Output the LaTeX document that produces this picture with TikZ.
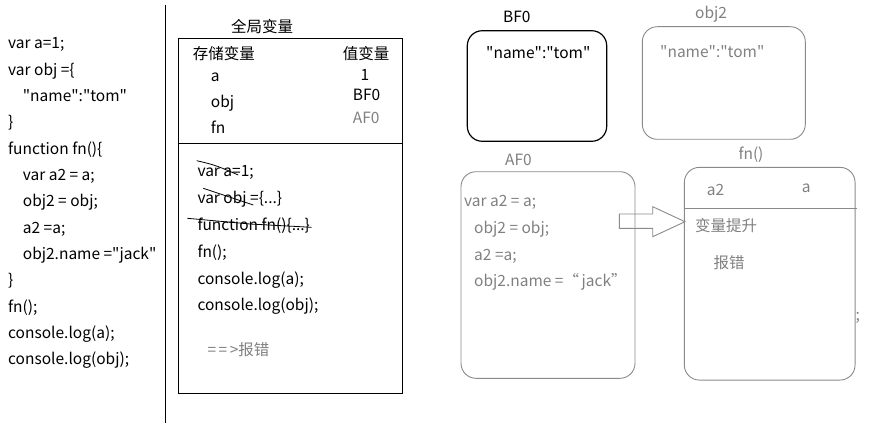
\documentclass[tikz,border=0pt]{standalone}
\usepackage{fontspec}
\newfontfamily\myfont{Noto Sans CJK SC}
\definecolor{gtxt}{HTML}{808080}
\definecolor{gline}{HTML}{8A8A8A}
\newcommand{\fs}{\myfont\fontsize{15.5}{18}\selectfont}
\begin{document}
\begin{tikzpicture}[x=1pt,y=-1pt,
  txt/.style={anchor=base west,inner sep=0pt,font=\fs},
  ctxt/.style={anchor=base,inner sep=0pt,font=\fs},
  gray text/.style={text=gtxt},
  rbox/.style={draw,rounded corners=15pt,inner sep=0pt},
  strike/.style={line width=0.8pt}]
\useasboundingbox (0,0) rectangle (878,425);
% left code
\foreach \t/\x [count=\i from 0] in {var a=1;/8, var obj =\{/8, "name":"tom"/22.7, \}/8, function fn()\{/8, var a2 = a;/22.7, obj2 = obj;/22.7, a2 =a;/22.7, obj2.name ="jack"/22.7, \}/8, fn();/8, console.log(a);/8, console.log(obj);/8}
  \node[txt] (l\i) at (\x,49+26.33*\i) {\t};
\draw[line width=1pt] (165,5) -- (165,423);
% global
\node[ctxt] (gtitle) at (262,32.7) {全局变量};
\node[draw,line width=0.9pt,inner sep=0pt,minimum width=224pt,minimum height=355pt] (gbox) at (290,215.8) {};
\draw[line width=0.9pt] (gbox.west |- 0,143.3) coordinate (d1) -- (gbox.east |- 0,143.3) coordinate (d2);
\node[txt] (h1) at (192.7,60) {存储变量};
\node[txt] (h2) at (342.7,60) {值变量};
\node[txt] (va) at (210.7,81.7) {a};
\node[txt] (vobj) at (210.7,108) {obj};
\node[txt] (vfn) at (210.7,134) {fn};
\node[ctxt] (v1) at (365,80.7) {1};
\node[txt] (vbf) at (352.7,100.7) {BF0};
\node[txt,gray text] (vaf) at (352.7,124) {AF0};
\node[txt] (g1) at (197.3,176) {var a=1;};
\node[txt] (g2) at (197.3,203) {var obj =\{...\}};
\node[txt] (g3) at (197.3,230) {function fn()\{...\}};
\node[txt] (g4) at (197.3,257) {fn();};
\node[txt] (g5) at (197.3,284) {console.log(a);};
\node[txt] (g6) at (197.3,310.7) {console.log(obj);};
\node[txt,gray text] (g7) at (207.3,355) {=\,=\,>报错};
\draw[strike] (196.7,160.7) .. controls (215,165) .. (238.3,175);
\draw[strike] (203.3,188.3) -- (253.3,205);
\draw[strike] (187.3,218.3) -- (250,224) -- (311.7,227.3);
% BF0
\node[txt] (bft) at (503,22.7) {BF0};
\node[rbox,line width=1.2pt,minimum width=139.4pt,minimum height=110.6pt] (bf) at (537,86) {};
\node[txt] (bfn) at (486,58.3) {"name":"tom"};
% obj2
\node[txt,gray text] (o2t) at (695,18.3) {obj2};
\node[rbox,draw=gline,line width=0.9pt,minimum width=163pt,minimum height=112.6pt] (o2) at (723.8,83) {};
\node[txt,gray text] (o2n) at (660,57.3) {"name":"tom"};
% AF0
\node[txt,gray text] (aft) at (505,165) {AF0};
\node[rbox,draw=gline,line width=0.9pt,minimum width=174pt,minimum height=206.6pt] (af) at (548,275) {};
\node[txt,gray text] (a1) at (464,206) {var a2 {=} a;};
\node[txt,gray text] (a2) at (474,233.3) {obj2 {=} obj;};
\node[txt,gray text] (a3) at (474,260) {a2 =a;};
\node[txt,gray text] (a4) at (474,286.7) {obj2.name =“\,jack”};
% arrow
\draw[draw=gline,line width=0.9pt] (619.3,214) -- (652.7,214) -- (652.7,206.7) -- (685,221.7) -- (652.7,236.7) -- (652.7,228.3) -- (619.3,228.3) -- cycle;
% fn()
\node[txt,gray text] (fnt) at (738.3,160) {fn()};
\node[rbox,draw=gline,line width=0.9pt,minimum width=170.7pt,minimum height=212.7pt] (fnb) at (769.7,273.7) {};
\draw[draw=gline,line width=0.9pt] (fnb.west |- 0,208.3) -- (857.3,208.3);
\node[txt,gray text] (f1) at (706.7,195) {a2};
\node[txt,gray text] (f2) at (801.7,192.7) {a};
\node[txt,gray text,font=\tiny] (fdot) at (686,231.7) {.};
\node[txt,gray text] (f3) at (695,231.7) {变量提升};
\node[txt,gray text] (f4) at (713.3,268.3) {报错};
\node[txt,gray text] (f5) at (855.5,320) {;};
\end{tikzpicture}
\end{document}
